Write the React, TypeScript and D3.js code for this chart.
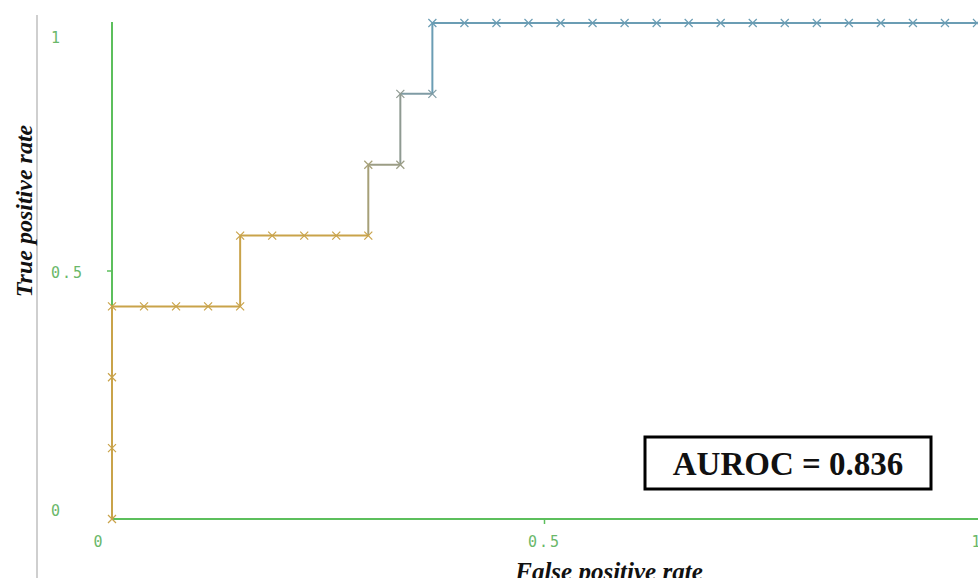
import * as d3 from "d3";

const W = 978;
const H = 578;

// ROC curve points as counts: false positives (of 27 negatives) and true positives (of 7 positives)
const NEG = 27;
const POS = 7;
const fpCounts = [0, 0, 0, 0, 1, 2, 3, 4, 4, 5, 6, 7, 8, 8, 9, 9, 10, 10, 11, 12, 13, 14, 15, 16, 17, 18, 19, 20, 21, 22, 23, 24, 25, 26, 27];
const tpCounts = [0, 1, 2, 3, 3, 3, 3, 3, 4, 4, 4, 4, 4, 5, 5, 6, 6, 7, 7, 7, 7, 7, 7, 7, 7, 7, 7, 7, 7, 7, 7, 7, 7, 7, 7];

const xTicks = [0, 0.5, 1];
const yTicks = [0, 0.5, 1];
const aurocLabel = "AUROC = 0.836";

const x = d3.scaleLinear().domain([0, 1]).range([112, 977]);
const y = d3.scaleLinear().domain([0, 1]).range([519, 23]);

// colour runs from orange (low thresholds) through grey to blue
const colour = d3
  .scaleLinear<string>()
  .domain([12, 13, 15, 16, 17])
  .range(["#c9a34a", "#a6a078", "#8f9a92", "#7f9ba4", "#6b9db4"])
  .clamp(true);

const points = fpCounts.map((fp, i) => ({ fx: fp / NEG, ty: tpCounts[i] / POS }));

const AXIS = "#5cbf5c";
const LABEL = "#6ab86a";

export default function App() {
  const mono = "'DejaVu Sans Mono', monospace";
  const serif = "'Liberation Serif', 'Times New Roman', serif";
  return (
    <div style={{ position: "fixed", left: 0, top: 0 }}>
      <svg width={W} height={H} style={{ display: "block", background: "#fff" }}>
        <line x1={37} x2={37} y1={15} y2={H} stroke="#cfcfcf" strokeWidth={2} />

        {/* axes */}
        <line x1={x(0)} x2={x(0)} y1={y(1) - 1} y2={y(0)} stroke={AXIS} strokeWidth={2} />
        <line x1={x(0)} x2={W} y1={y(0)} y2={y(0)} stroke={AXIS} strokeWidth={2} />
        <line x1={x(0) - 5} x2={x(0)} y1={y(0.5)} y2={y(0.5)} stroke={AXIS} strokeWidth={1.5} />
        <line x1={x(0.5)} x2={x(0.5)} y1={y(0)} y2={y(0) + 5} stroke={AXIS} strokeWidth={1.5} />

        {yTicks.map((t) => {
          const dy = t === 1 ? 20 : t === 0 ? -3 : 7;
          return (
            <text key={t} x={51} y={y(t) + dy} fontFamily={mono} fontSize={15} letterSpacing={2} fill={LABEL}>
              {String(t)}
            </text>
          );
        })}
        {xTicks.map((t) => {
          const dx = t === 0 ? -13 : 0;
          return (
            <text key={t} x={x(t) + dx} y={547} textAnchor="middle" fontFamily={mono} fontSize={15} letterSpacing={2} fill={LABEL}>
              {String(t)}
            </text>
          );
        })}

        {/* curve segments */}
        {points.slice(1).map((p, i) => {
          const a = points[i];
          return (
            <line
              key={i}
              x1={x(a.fx)}
              y1={y(a.ty)}
              x2={x(p.fx)}
              y2={y(p.ty)}
              stroke={colour(i + 1)}
              strokeWidth={2}
            />
          );
        })}
        {points.map((p, i) => {
          const cx = x(p.fx);
          const cy = y(p.ty);
          const s = 4;
          return (
            <path
              key={i}
              d={`M${cx - s},${cy - s}L${cx + s},${cy + s}M${cx - s},${cy + s}L${cx + s},${cy - s}`}
              stroke={colour(i)}
              strokeWidth={1.2}
              fill="none"
            />
          );
        })}

        {/* axis titles */}
        <text
          transform={`translate(32,211) rotate(-90)`}
          textAnchor="middle"
          fontFamily={serif}
          fontStyle="italic"
          fontWeight="bold"
          fontSize={24}
          fill="#111"
        >
          True positive rate
        </text>
        <text x={609} y={580} textAnchor="middle" fontFamily={serif} fontStyle="italic" fontWeight="bold" fontSize={25} fill="#111">
          False positive rate
        </text>

        {/* AUROC box */}
        <rect x={645} y={437} width={286} height={52} fill="#fff" stroke="#000" strokeWidth={3} />
        <text x={788} y={475} textAnchor="middle" fontFamily={serif} fontWeight="bold" fontSize={33} fill="#111">
          {aurocLabel}
        </text>
      </svg>
    </div>
  );
}
